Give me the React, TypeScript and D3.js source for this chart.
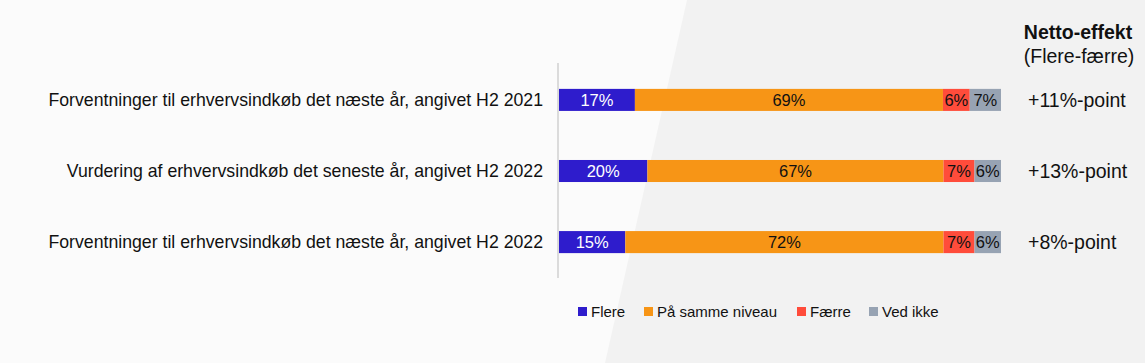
import React, { useEffect, useRef } from 'react';
import * as d3 from 'd3';

// Rows of the chart, top to bottom
const categories = [
  'Forventninger til erhvervsindkøb det næste år, angivet H2 2021',
  'Vurdering af erhvervsindkøb det seneste år, angivet H2 2022',
  'Forventninger til erhvervsindkøb det næste år, angivet H2 2022',
];
const seriesNames = ['Flere', 'På samme niveau', 'Færre', 'Ved ikke'];
const flere = [17, 20, 15];
const sammeNiveau = [69, 67, 72];
const faerre = [6, 7, 7];
const vedIkke = [7, 6, 6];
const netto = ['+11%-point', '+13%-point', '+8%-point'];

const colors = ['#2e1ccc', '#f79516', '#ff4c3b', '#97a3b3'];

const W = 1145;
const H = 363;
const FONT = '"Liberation Sans", Arial, sans-serif';

const App = () => {
  const svgRef = useRef<SVGSVGElement>(null);

  useEffect(() => {
    const svg = d3.select(svgRef.current);
    svg.selectAll('*').remove();

    // background: white left, light grey slanted panel on the right
    svg.append('rect').attr('width', W).attr('height', H).attr('fill', '#fbfbfb');
    svg.append('path')
      .attr('d', `M687,0 L${W},0 L${W},${H} L605,${H} Z`)
      .attr('fill', '#f2f2f2');

    const rows = categories.map((c, i) => ({
      cat: c,
      'Flere': flere[i],
      'På samme niveau': sammeNiveau[i],
      'Færre': faerre[i],
      'Ved ikke': vedIkke[i],
    }));

    // each row is shown as shares of its own total
    const stacked = d3.stack<any>()
      .keys(seriesNames)
      .offset(d3.stackOffsetExpand)(rows);

    const x = d3.scaleLinear().domain([0, 1]).range([559, 1001]);
    const y = d3.scaleBand().domain(categories).range([64, 278]).paddingInner(0.69).paddingOuter(0.35);

    // thin vertical axis line
    svg.append('line')
      .attr('x1', 558).attr('x2', 558)
      .attr('y1', 63).attr('y2', 278)
      .attr('stroke', '#d0d0d0').attr('stroke-width', 1.5);

    const layer = svg.append('g');
    stacked.forEach((s, si) => {
      const g = layer.append('g');
      g.selectAll('rect')
        .data(s)
        .enter().append('rect')
        .attr('x', d => x(d[0]))
        .attr('width', d => x(d[1]) - x(d[0]))
        .attr('y', d => y(d.data.cat)!)
        .attr('height', y.bandwidth())
        .attr('fill', colors[si]);
      g.selectAll('text')
        .data(s)
        .enter().append('text')
        .attr('x', d => (x(d[0]) + x(d[1])) / 2)
        .attr('y', d => y(d.data.cat)! + y.bandwidth() / 2)
        .attr('dy', '0.36em')
        .attr('text-anchor', 'middle')
        .attr('font-family', FONT)
        .attr('font-size', 16.5)
        .attr('fill', si === 0 ? '#ffffff' : '#111111')
        .text(d => `${d.data[seriesNames[si]]}%`);
    });

    // category labels
    svg.append('g').selectAll('text')
      .data(categories)
      .enter().append('text')
      .attr('x', 543)
      .attr('y', d => y(d)! + y.bandwidth() / 2)
      .attr('dy', '0.36em')
      .attr('text-anchor', 'end')
      .attr('font-family', FONT)
      .attr('font-size', 17.7)
      .attr('fill', '#111111')
      .text(d => d);

    // netto-effekt column
    svg.append('text')
      .attr('x', 1078).attr('y', 39)
      .attr('text-anchor', 'middle')
      .attr('font-family', FONT).attr('font-size', 19.5).attr('font-weight', 'bold')
      .attr('fill', '#111111')
      .text('Netto-effekt');
    svg.append('text')
      .attr('x', 1079).attr('y', 63)
      .attr('text-anchor', 'middle')
      .attr('font-family', FONT).attr('font-size', 19.5)
      .attr('fill', '#111111')
      .text('(Flere-færre)');
    svg.append('g').selectAll('text')
      .data(netto)
      .enter().append('text')
      .attr('x', 1028)
      .attr('y', (d, i) => y(categories[i])! + y.bandwidth() / 2)
      .attr('dy', '0.36em')
      .attr('font-family', FONT)
      .attr('font-size', 19.5)
      .attr('fill', '#111111')
      .text(d => d);

    // legend
    const legendX = [578, 644, 797, 869];
    const legend = svg.append('g');
    seriesNames.forEach((name, i) => {
      legend.append('rect')
        .attr('x', legendX[i]).attr('y', 307)
        .attr('width', 9).attr('height', 9)
        .attr('fill', colors[i]);
      legend.append('text')
        .attr('x', legendX[i] + 13).attr('y', 312)
        .attr('dy', '0.36em')
        .attr('font-family', FONT).attr('font-size', 15)
        .attr('fill', '#111111')
        .text(name);
    });
  }, []);

  return (
    <div style={{ position: 'fixed', left: 0, top: 0 }}>
      <svg ref={svgRef} width={W} height={H} style={{ display: 'block' }}></svg>
    </div>
  );
};

export default App;
